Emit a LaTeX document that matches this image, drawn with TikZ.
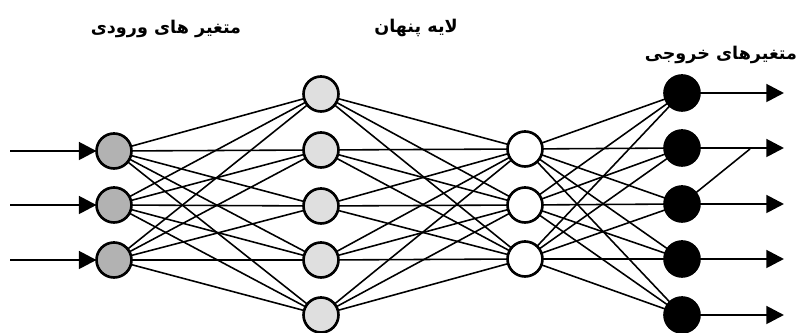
\documentclass[tikz,border=0pt]{standalone}
\usepackage{fontspec}
\newfontfamily\arabicfont[Script=Arabic]{DejaVu Sans}
\TeXXeTstate=1
\usetikzlibrary{arrows.meta}

\begin{document}
\begin{tikzpicture}[x=0.02cm,y=-0.02cm,inner sep=0pt,outer sep=0pt,
neuron/.style={draw,circle,minimum size=0.7cm,line width=1.5pt},
inneuron/.style={neuron,fill=gray!60},
hidneuron/.style={neuron,fill=gray!25},
midneuron/.style={neuron,fill=white},
outneuron/.style={neuron,fill=black},
link/.style={line width=0.9pt},
signal/.style={line width=1.6pt,-{Triangle[length=10pt,width=10pt]}},
title/.style={font=\arabicfont\bfseries\normalsize}]

\useasboundingbox (0,0) rectangle (798,333);

\foreach \y [count=\i] in {151,205,260} {
  \node[inneuron] (i\i) at (114,\y) {};
  \coordinate (s\i) at (10,\y);
}
\foreach \y [count=\i] in {94,150,206,260,315}
  \node[hidneuron] (h\i) at (321,\y) {};
\foreach \y [count=\i] in {149,205,259}
  \node[midneuron] (m\i) at (525,\y) {};
\foreach \y [count=\i] in {93,148,204,259,315} {
  \node[outneuron] (o\i) at (682,\y) {};
  \coordinate (t\i) at (784,\y);
}

\foreach \a in {1,2,3}
  \foreach \b in {1,...,5}
    \draw[link] (i\a) -- (h\b);
\foreach \a in {1,...,5}
  \foreach \b in {1,2,3}
    \draw[link] (h\a) -- (m\b);
\foreach \a in {1,2,3}
  \foreach \b in {1,...,5}
    \draw[link] (m\a) -- (o\b);

\coordinate (kink) at (750,149);
\draw[link] (o3) -- (kink);

\foreach \i in {1,2,3}
  \draw[signal] (s\i) -- (i\i);
\foreach \i in {1,...,5}
  \draw[signal] (o\i) -- (t\i);

\node[title] (inlabel) at (166,29) {\beginR متغیر های ورودی\endR};
\node[title] (hidlabel) at (416,28) {\beginR لایه پنهان\endR};
\node[title,anchor=east] (outlabel) at (797,55) {\beginR متغیرهای خروجی\endR};
\end{tikzpicture}
\end{document}
